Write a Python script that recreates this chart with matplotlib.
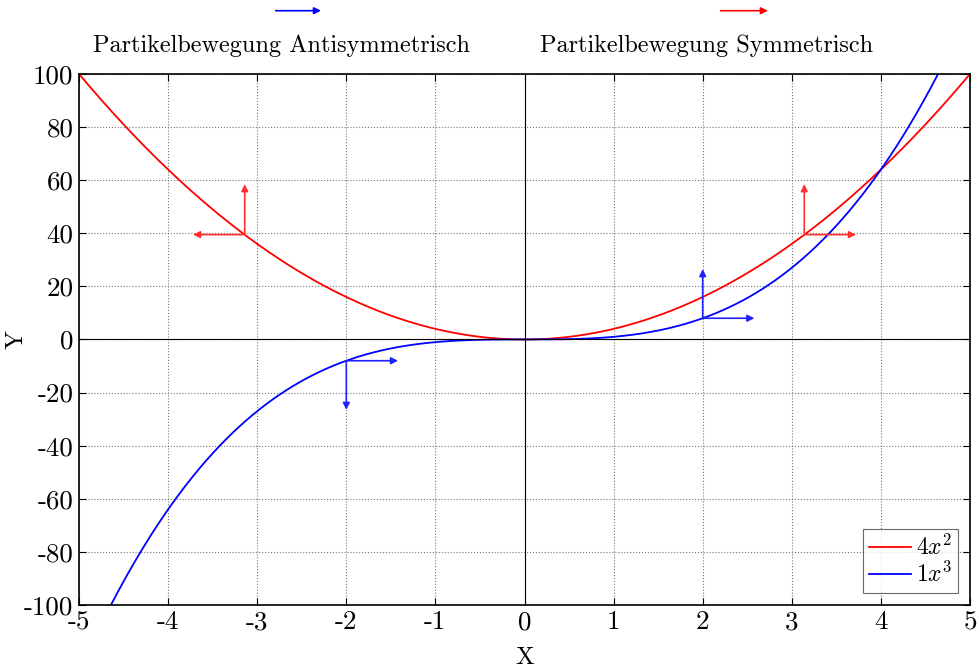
import numpy as np
import matplotlib
matplotlib.use("Agg")
import matplotlib.pyplot as plt

plt.rcParams['font.family'] = ['cmr10', 'DejaVu Serif']
plt.rcParams['mathtext.fontset'] = 'cm'
plt.rcParams['axes.unicode_minus'] = False

# curves
x = np.linspace(-5, 5, 400)
a_sq, a_cu = 4, 1
y_sq = a_sq * x**2
y_cu = a_cu * x**3

# tick labels
xticks = [-5, -4, -3, -2, -1, 0, 1, 2, 3, 4, 5]
yticks = [-100, -80, -60, -40, -20, 0, 20, 40, 60, 80, 100]

# arrows: start point (x0, y0) and components (dx, dy)
red_pts = [(-3.14, 39.5, -0.58, 0.0), (-3.14, 39.5, 0.0, 19.0),
           (3.14, 39.5, 0.58, 0.0), (3.14, 39.5, 0.0, 19.0)]
blue_pts = [(-2.0, -8.0, 0.58, 0.0), (-2.0, -8.0, 0.0, -18.5),
            (2.0, 8.0, 0.58, 0.0), (2.0, 8.0, 0.0, 18.5)]

fig = plt.figure(figsize=(9.78, 6.69), dpi=100)
ax = fig.add_axes([0.0808, 0.0957, 0.9110, 0.7937])

ax.plot(x, y_sq, color='red', lw=1.3, label=r'$4x^2$')
ax.plot(x, y_cu, color='blue', lw=1.3, label=r'$1x^3$')
ax.axhline(0, color='black', lw=0.8)
ax.axvline(0, color='black', lw=0.8)

for pts, c in [(red_pts, '#ff3030'), (blue_pts, '#2020ff')]:
    for x0, y0, dx, dy in pts:
        ax.annotate('', xy=(x0 + dx, y0 + dy), xytext=(x0, y0),
                    arrowprops=dict(arrowstyle='-|>', color=c, lw=1.2,
                                    mutation_scale=10, shrinkA=0, shrinkB=0))

ax.set_xlim(-5, 5)
ax.set_ylim(-100, 100)
ax.set_xticks(xticks, labels=[str(v) for v in xticks])
ax.set_yticks(yticks, labels=[str(v) for v in yticks])
ax.tick_params(direction='in', top=True, right=True, labelsize=19.5, length=5,
               pad=4)
ax.grid(True, linestyle=':', color='#777777', lw=0.8)
for s in ax.spines.values():
    s.set_linewidth(1.2)
ax.set_xlabel('X', fontsize=18, labelpad=9)
ax.set_ylabel('Y', fontsize=18)
ax.yaxis.set_label_coords(-0.058, 0.5)

leg = ax.legend(loc='lower right', fontsize=17, frameon=True, fancybox=False,
                edgecolor='#444444', handlelength=1.8, borderpad=0.25,
                labelspacing=0.1, handletextpad=0.2, borderaxespad=0.5)
leg.get_frame().set_linewidth(0.8)

# motion labels above the plot
fig.text(0.288, 0.932, 'Partikelbewegung Antisymmetrisch', ha='center',
         va='center', fontsize=17.5)
fig.text(0.722, 0.932, 'Partikelbewegung Symmetrisch', ha='center',
         va='center', fontsize=17.5)
for x0, x1, c in [(0.279, 0.331, 'blue'), (0.734, 0.788, 'red')]:
    fig.add_artist(matplotlib.patches.FancyArrowPatch(
        (x0, 0.984), (x1, 0.984), transform=fig.transFigure,
        arrowstyle='-|>', color=c, lw=1.2, mutation_scale=10))

fig.savefig('out.png', dpi=100)
